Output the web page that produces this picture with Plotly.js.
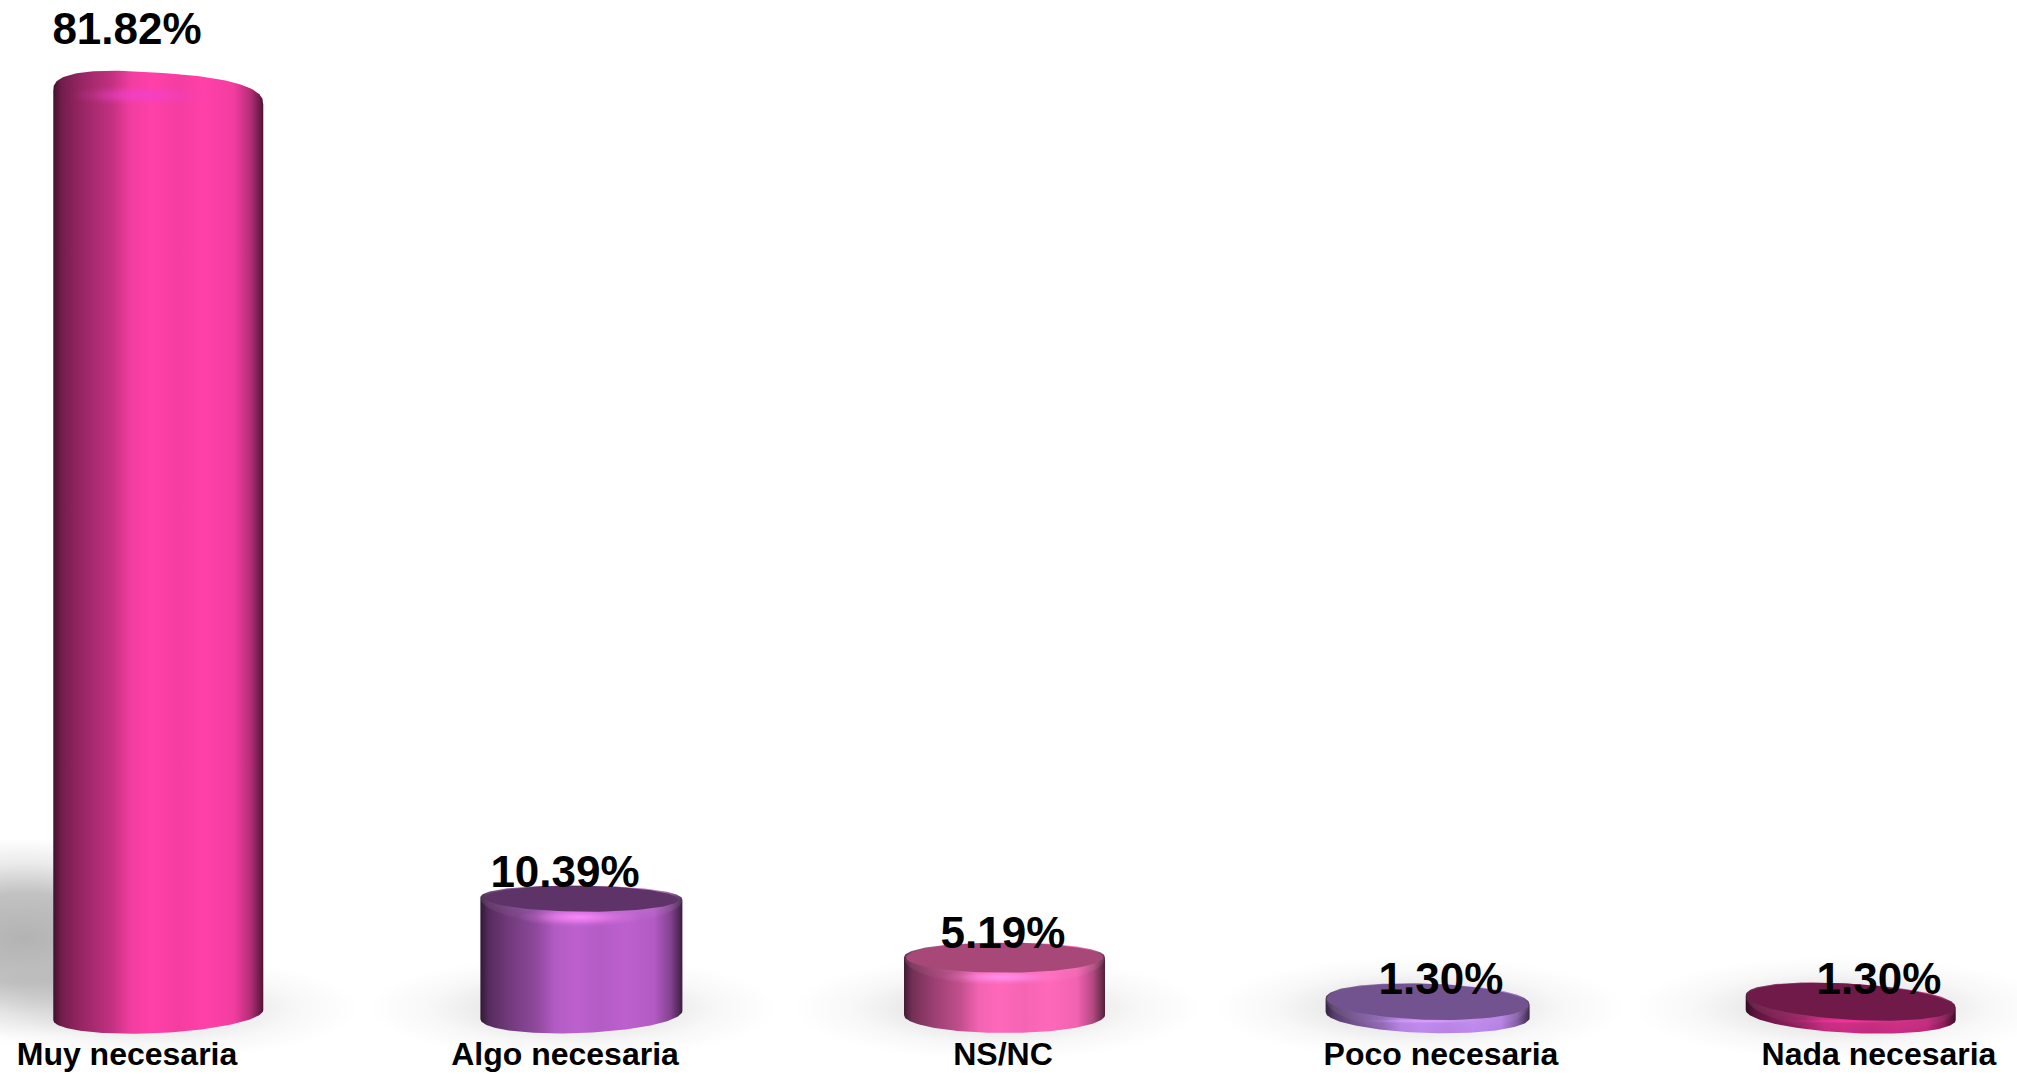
<!DOCTYPE html>
<html><head><meta charset="utf-8">
<script src="https://cdn.plot.ly/plotly-3.0.1.min.js"></script>
<style>html,body{margin:0;padding:0;background:#fff}</style></head>
<body><div id="chart" style="width:2017px;height:1074px"></div>
<script>
// ---- data
const categories = ['Muy necesaria','Algo necesaria','NS/NC','Poco necesaria','Nada necesaria'];
const values = [81.82,10.39,5.19,1.30,1.30];
// ---- styles
const peakColors = [[255,64,168],[188,96,206],[255,104,186],[190,136,238],[204,42,130]];
const capColors = [null,'#5e3468','#a84878','#73538f','#6f1a48'];
const glowColors = ['rgb(240,64,208)','rgb(255,136,255)','rgb(255,144,240)','rgb(224,160,255)','rgb(255,48,160)'];
const shadeStops = [[0,.26],[.04,.45],[.14,.6],[.28,.76],[.37,.95],[.47,1],[.6,.96],[.72,1],[.86,.95],[.94,.7],[.985,.42],[1,.3]];
const halfWidth = [105,101,100.5,102,105];
const rimRy = [25,13,15,18,18];
const rimTilt = [7,1,0,3,6];
const baseTilt = [-5,-4,0,3,5];
const capInset = [0,4,2,1,1];
const glowRy = [11,10,8,2.5,2.5];
const glowRx = [72,62,62,64,64];
const PXX = 438, PXY = 11.8, ZERO_PX = 998.5;
const BASE_RY = 18, BASE_PX = 1015;
const xOfLabel = px => (px-127)/PXX;
const vOfPx = px => (ZERO_PX-px)/PXY;
const BASE_V = vOfPx(BASE_PX);
const cx = i => 2+(i-2)*0.966+1.5/PXX;
const rimV = v => -1.525+0.961*v;

function spow(a,e){return Math.sign(a)*Math.pow(Math.abs(a),e);}
function arc(xc,yc,rx,ry,tilt,a0,a1,n,out){
  const N=90;
  for(let k=0;k<=N;k++){
    const t=(a0+(a1-a0)*k/N)*Math.PI/180, c=Math.cos(t), s=Math.sin(t);
    const ux=spow(c,2/n), uy=spow(s,2/n);
    out.x.push(xc+rx*ux/PXX);
    out.y.push(yc+(ry*uy-tilt*ux)/PXY);
  }
  return out;
}
const poly=(p,fillgradient,fillcolor)=>{
  const tr={type:'scatter',mode:'lines',x:p.x,y:p.y,fill:'toself',line:{width:0,color:'rgba(0,0,0,0)'},hoverinfo:'skip',showlegend:false};
  if(fillgradient) tr.fillgradient=fillgradient; else tr.fillcolor=fillcolor;
  return tr;
};
const ellipse=(xc,yc,rx,ry,tilt=0,n=2)=>arc(xc,yc,rx,ry,tilt,0,360,n,{x:[],y:[]});
const rgba=(c,a)=>c.replace('rgb(','rgba(').replace(')',','+a+')');
const radial=(c,a)=>({type:'radial',colorscale:[[0,rgba(c,a)],[.35,rgba(c,a*.62)],[.7,rgba(c,a*.18)],[1,rgba(c,0)]]});

const traces=[];
// cast shadow of the tall bar
traces.push(poly(ellipse(cx(0)-135/PXX,vOfPx(938),185,100),{type:'radial',colorscale:[[0,'rgba(0,0,0,.3)'],[.45,'rgba(0,0,0,.24)'],[.75,'rgba(0,0,0,.08)'],[1,'rgba(0,0,0,0)']]}));
values.forEach((v,i)=>{
  traces.push(poly(ellipse(cx(i)-8/PXX,vOfPx(1008),halfWidth[i]+105,52),radial('rgb(0,0,0)',.16)));
});
values.forEach((v,i)=>{
  const xc=cx(i), rx=halfWidth[i], rv=rimV(v), ry=rimRy[i];
  const pk=peakColors[i];
  const p={x:[],y:[]};
  arc(xc,BASE_V,rx,BASE_RY,baseTilt[i],180,360,2,p);
  // the tall bar shows a rounded shoulder instead of a top face
  arc(xc,i===0?rv-9/PXY:rv,rx,ry,rimTilt[i],0,180,i===0?2.6:2.2,p);
  const scale=shadeStops.map(([t,m])=>[t,`rgb(${pk.map(c=>Math.round(c*m)).join(',')})`]);
  traces.push(poly(p,{type:'horizontal',colorscale:scale}));
  if(i>0){
    const b={x:[],y:[]};
    arc(xc,rv,rx,ry+13,rimTilt[i],180,360,2,b);
    arc(xc,rv,rx,ry,rimTilt[i],0,180,2.2,b);
    traces.push(poly(b,{type:'vertical',colorscale:[[0,'rgba(255,255,255,0)'],[1,'rgba(255,255,255,.16)']]}));
  }
  const hy = i===0 ? rv-(-4)/PXY-0.9 : rv-(ry+glowRy[i]*0.55)/PXY;
  traces.push(poly(ellipse(xc+(i===0?-18:-2)/PXX,hy,glowRx[i],glowRy[i]),radial(glowColors[i],i===0?.8:.95)));
  if(capColors[i]) traces.push(poly(ellipse(xc,rv,rx-capInset[i],ry,rimTilt[i]),null,capColors[i]));
});
traces.push({type:'scatter',mode:'text',x:categories.map((c,i)=>i),y:values,
  text:values.map(v=>v.toFixed(2)+'%'),textposition:'middle center',cliponaxis:false,
  textfont:{family:'Liberation Sans, Arial, sans-serif',size:44,color:'#000',weight:700},
  hoverinfo:'skip',showlegend:false});

const layout={
  width:2017,height:1074,margin:{l:0,r:0,t:0,b:0,pad:0},
  paper_bgcolor:'#fff',plot_bgcolor:'rgba(0,0,0,0)',showlegend:false,
  xaxis:{type:'linear',range:[xOfLabel(0),xOfLabel(2017)],tickmode:'array',tickvals:categories.map((c,i)=>i),ticktext:categories,
    ticklabelposition:'inside',showgrid:false,zeroline:false,showline:false,ticks:'',ticklen:0,fixedrange:true,
    tickfont:{family:'Liberation Sans, Arial, sans-serif',size:32,color:'#000',weight:700}},
  yaxis:{range:[vOfPx(1074),vOfPx(0)],visible:false,showgrid:false,zeroline:false,fixedrange:true}
};
Plotly.newPlot('chart',traces,layout,{displayModeBar:false,staticPlot:true});
</script></body></html>
